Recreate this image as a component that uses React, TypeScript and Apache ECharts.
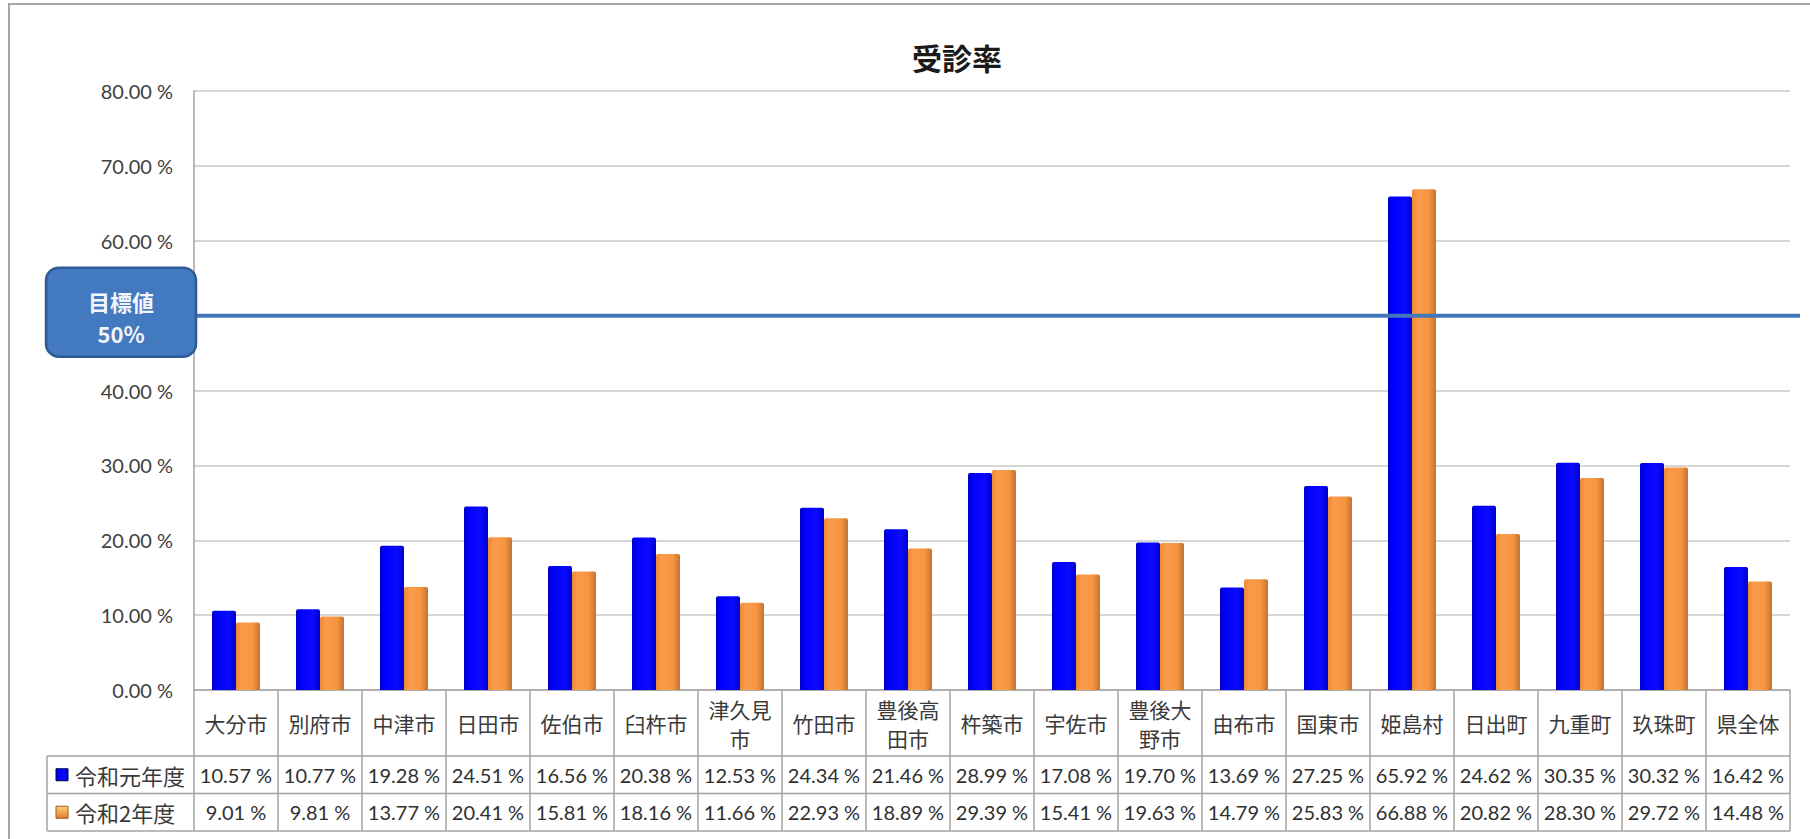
import { useEffect, useRef } from "react";
import * as echarts from "echarts";

// 市町村別の受診率（令和元年度・令和2年度）
const categories = [
  "大分市", "別府市", "中津市", "日田市", "佐伯市", "臼杵市", "津久見市", "竹田市",
  "豊後高田市", "杵築市", "宇佐市", "豊後大野市", "由布市", "国東市", "姫島村",
  "日出町", "九重町", "玖珠町", "県全体",
];
const seriesNames = ["令和元年度", "令和2年度"];
const reiwa1 = [
  10.57, 10.77, 19.28, 24.51, 16.56, 20.38, 12.53, 24.34, 21.46, 28.99,
  17.08, 19.7, 13.69, 27.25, 65.92, 24.62, 30.35, 30.32, 16.42,
];
const reiwa2 = [
  9.01, 9.81, 13.77, 20.41, 15.81, 18.16, 11.66, 22.93, 18.89, 29.39,
  15.41, 19.63, 14.79, 25.83, 66.88, 20.82, 28.3, 29.72, 14.48,
];
const targetRate = 50;
const yMin = 0;
const yMax = 80;
const yStep = 10;

const W = 1810;
const H = 839;
const GRID = { left: 194, right: 20, top: 91, bottom: 149 };
const ROW_CAT = 66;
const ROW_VAL = 37.5;
const LEGEND_LEFT = 47;

const CJK = '"Noto Sans CJK JP", "Noto Sans", sans-serif';
const NUM = 'Lato, "Noto Sans", sans-serif';
const LINE = "#a3a3a3";

const pct = (v: number) => `${v.toFixed(2)} %`;
const wrap = (s: string) => (s.length > 3 ? `${s.slice(0, 3)}\n${s.slice(3)}` : s);

const blueFill = () =>
  new echarts.graphic.LinearGradient(0, 0, 1, 0, [
    { offset: 0, color: "#0000c4" },
    { offset: 0.2, color: "#0000ff" },
    { offset: 0.7, color: "#0b0bff" },
    { offset: 1, color: "#0000cc" },
  ]);
const orangeFill = () =>
  new echarts.graphic.LinearGradient(0, 0, 1, 0, [
    { offset: 0, color: "#ef8a36" },
    { offset: 0.25, color: "#fb9b4a" },
    { offset: 0.7, color: "#f79540" },
    { offset: 1, color: "#c27431" },
  ]);

export default function App() {
  const ref = useRef<HTMLDivElement>(null);

  useEffect(() => {
    if (!ref.current) return;
    const chart = echarts.init(ref.current, null, { renderer: "svg" });
    const axisY = H - GRID.bottom;

    const valueAxis = (values: number[], row: number) => ({
      type: "category" as const,
      data: categories,
      position: "bottom" as const,
      gridIndex: 0,
      axisLine: { show: false },
      axisTick: { show: false },
      splitLine: { show: false },
      axisLabel: {
        interval: 0,
        margin: ROW_CAT + ROW_VAL * (row + 0.5),
        verticalAlign: "middle" as const,
        formatter: (_v: string, i: number) => pct(values[i]),
        fontFamily: NUM,
        fontSize: 20,
        color: "#303030",
      },
    });

    chart.setOption({
      animation: false,
      backgroundColor: "#ffffff",
      title: {
        text: "受診率",
        left: 907,
        top: 37,
        textStyle: { fontFamily: CJK, fontSize: 30, fontWeight: "bold", color: "#1a1a1a" },
      },
      grid: { ...GRID, containLabel: false },
      xAxis: [
        {
          type: "category",
          data: categories,
          position: "bottom",
          axisLine: { show: true, lineStyle: { color: LINE, width: 1.5 } },
          axisTick: {
            show: true,
            interval: 0,
            alignWithLabel: false,
            length: ROW_CAT + ROW_VAL * 2,
            lineStyle: { color: LINE, width: 1.5 },
          },
          axisLabel: {
            interval: 0,
            margin: ROW_CAT / 2,
            verticalAlign: "middle",
            lineHeight: 29,
            formatter: (v: string) => wrap(v),
            fontFamily: CJK,
            fontSize: 21,
            color: "#3a3a3a",
          },
        },
        valueAxis(reiwa1, 0),
        valueAxis(reiwa2, 1),
      ],
      yAxis: {
        type: "value",
        min: yMin,
        max: yMax,
        interval: yStep,
        axisLine: { show: true, lineStyle: { color: LINE, width: 1.5 } },
        axisTick: { show: false },
        splitLine: { show: true, lineStyle: { color: "#c8c8c8", width: 1.5 } },
        axisLabel: {
          margin: 21,
          // the target box sits over the 50 % tick
          formatter: (v: number) => (v === targetRate ? "" : pct(v)),
          fontFamily: NUM,
          fontSize: 20,
          color: "#404040",
        },
      },
      series: [
        {
          name: seriesNames[0],
          type: "bar",
          xAxisIndex: 0,
          data: reiwa1,
          barWidth: 24,
          barGap: "0%",
          itemStyle: { color: blueFill(), borderRadius: [2, 2, 0, 0] },
        },
        {
          name: seriesNames[1],
          type: "bar",
          xAxisIndex: 0,
          data: reiwa2,
          barWidth: 24,
          barGap: "0%",
          itemStyle: { color: orangeFill(), borderRadius: [2, 2, 0, 0] },
        },
      ],
    });

    const y50 = chart.convertToPixel({ yAxisIndex: 0 }, targetRate) as number;
    const plotRight = W - GRID.right;
    const rowTop = axisY + ROW_CAT;
    const rowLines = [rowTop, rowTop + ROW_VAL, rowTop + ROW_VAL * 2];

    const legendRows = seriesNames.map((name, i) => {
      const cy = rowTop + ROW_VAL * (i + 0.5);
      const fill =
        i === 0
          ? blueFill()
          : new echarts.graphic.LinearGradient(0, 0, 0, 1, [
              { offset: 0, color: "#ffd07a" },
              { offset: 1, color: "#e47b26" },
            ]);
      return [
        {
          type: "rect",
          shape: { x: 56, y: cy - 6, width: 12, height: 12 },
          style: { fill, stroke: i === 0 ? "#00005a" : "#9a5a20", lineWidth: 1 },
        },
        {
          type: "text",
          x: 75,
          y: cy,
          style: {
            text: name,
            fontFamily: CJK,
            fontSize: 22,
            fill: "#3a3a3a",
            textVerticalAlign: "middle",
          },
        },
      ];
    }).flat();

    chart.setOption({
      graphic: [
        // outer chart frame
        {
          type: "rect",
          shape: { x: 9, y: 4, width: W + 20, height: H + 20 },
          style: { fill: "none", stroke: "#a6a6a6", lineWidth: 2 },
          silent: true,
        },
        // data table grid
        ...rowLines.map((y) => ({
          type: "line",
          shape: { x1: LEGEND_LEFT, y1: y, x2: plotRight, y2: y },
          style: { stroke: LINE, lineWidth: 1.5 },
        })),
        {
          type: "line",
          shape: { x1: LEGEND_LEFT, y1: rowTop, x2: LEGEND_LEFT, y2: rowLines[2] },
          style: { stroke: LINE, lineWidth: 1.5 },
        },
        ...legendRows,
        // target line
        {
          type: "line",
          z: 100,
          shape: { x1: GRID.left, y1: y50, x2: 1800, y2: y50 },
          style: { stroke: "#4277bd", lineWidth: 4 },
        },
        // target label box
        {
          type: "rect",
          z: 101,
          shape: { x: 46, y: y50 - 48, width: 150, height: 89, r: 13 },
          style: { fill: "#4279bf", stroke: "#2c5c95", lineWidth: 2.5 },
        },
        {
          type: "text",
          z: 102,
          x: 121,
          y: y50 - 15,
          style: {
            text: "目標値",
            fontFamily: CJK,
            fontSize: 22,
            fontWeight: "bold",
            fill: "#f2f6fb",
            textAlign: "center",
            textVerticalAlign: "middle",
          },
        },
        {
          type: "text",
          z: 102,
          x: 121,
          y: y50 + 17,
          style: {
            text: `${targetRate}%`,
            fontFamily: CJK,
            fontSize: 22,
            fontWeight: "bold",
            fill: "#f2f6fb",
            textAlign: "center",
            textVerticalAlign: "middle",
          },
        },
      ],
    });

    return () => chart.dispose();
  }, []);

  return (
    <div
      ref={ref}
      style={{ position: "absolute", left: 0, top: 0, width: W, height: H, background: "#fff" }}
    />
  );
}
